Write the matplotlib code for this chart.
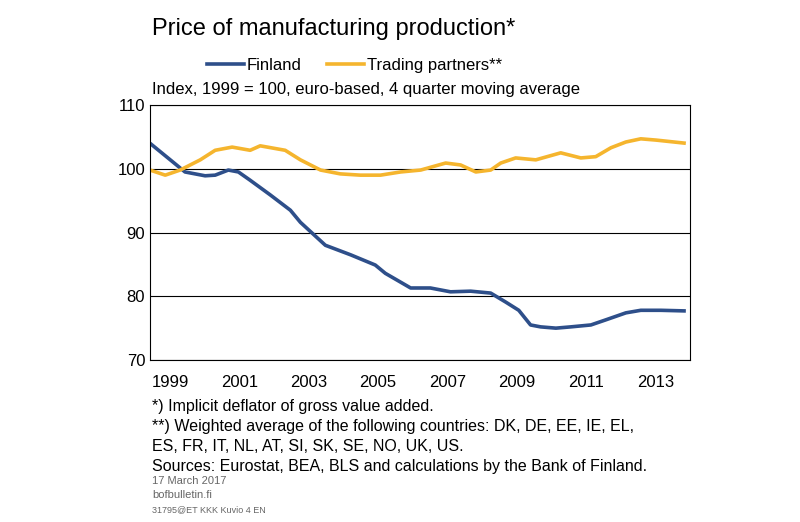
import matplotlib.pyplot as plt
from matplotlib.lines import Line2D

plt.rcParams['font.family'] = ['Liberation Sans', 'DejaVu Sans']

fin_years = [1998.42, 1999.14, 1999.43, 2000.01, 2000.30, 2000.68, 2000.97, 2001.31, 2001.89,
             2002.47, 2002.76, 2003.48, 2004.21, 2004.92, 2005.21, 2005.94, 2006.51, 2007.09,
             2007.67, 2008.25, 2008.68, 2009.06, 2009.40, 2009.69, 2010.13, 2010.56, 2011.14,
             2011.57, 2012.15, 2012.58, 2013.16, 2013.88]
fin_values = [104.0, 100.8, 99.5, 98.9, 99.0, 99.8, 99.5, 98.2, 95.9, 93.5, 91.6, 88.0, 86.5,
              84.9, 83.6, 81.3, 81.3, 80.7, 80.8, 80.5, 79.1, 77.8, 75.5, 75.2, 75.0, 75.2,
              75.5, 76.3, 77.4, 77.8, 77.8, 77.7]

tp_years = [1998.42, 1998.86, 1999.29, 1999.87, 2000.30, 2000.79, 2001.31, 2001.60, 2002.32,
            2002.76, 2003.34, 2003.91, 2004.49, 2005.07, 2005.65, 2006.23, 2006.95, 2007.38,
            2007.82, 2008.25, 2008.54, 2008.97, 2009.55, 2010.27, 2010.85, 2011.28, 2011.72,
            2012.15, 2012.58, 2013.02, 2013.88]
tp_values = [99.8, 99.0, 99.8, 101.4, 102.9, 103.4, 102.9, 103.6, 102.9, 101.4, 99.8, 99.2,
             99.0, 99.0, 99.5, 99.8, 100.9, 100.6, 99.5, 99.8, 100.9, 101.7, 101.4, 102.5,
             101.7, 101.9, 103.3, 104.2, 104.7, 104.5, 104.0]

tick_years = [1999, 2001, 2003, 2005, 2007, 2009, 2011, 2013]
y_ticks = [70, 80, 90, 100, 110]

fin_color = '#2e4f8a'
tp_color = '#f5b52e'

fig = plt.figure(figsize=(8, 5.22), dpi=100)
ax = fig.add_axes([0.1875, 0.3103, 0.675, 0.4885])

ax.plot(fin_years, fin_values, color=fin_color, lw=2.6, solid_capstyle='butt')
ax.plot(tp_years, tp_values, color=tp_color, lw=2.6, solid_capstyle='butt')

ax.set_xlim(1998.42, 2014.0)
ax.set_ylim(70, 110)
ax.set_yticks(y_ticks)
ax.set_xticks(tick_years)
ax.set_xticklabels([str(y) for y in tick_years])
ax.tick_params(labelsize=12, direction='in', length=0)
ax.tick_params(axis='x', pad=11)
ax.grid(axis='y', color='black', lw=0.8)
for s in ax.spines.values():
    s.set_linewidth(0.8)

fig.text(0.19, 0.945, 'Price of manufacturing production*', fontsize=17, va='center')
handles = [Line2D([], [], color=fin_color, lw=2.6), Line2D([], [], color=tp_color, lw=2.6)]
fig.legend(handles, ['Finland', 'Trading partners**'], loc='center left',
           bbox_to_anchor=(0.24, 0.875), ncol=2, frameon=False, fontsize=12,
           handlelength=2.2, handletextpad=0.2, columnspacing=1.5)
fig.text(0.19, 0.828, 'Index, 1999 = 100, euro-based, 4 quarter moving average',
         fontsize=12, va='center')

notes = ['*) Implicit deflator of gross value added.',
         '**) Weighted average of the following countries: DK, DE, EE, IE, EL,',
         'ES, FR, IT, NL, AT, SI, SK, SE, NO, UK, US.',
         'Sources: Eurostat, BEA, BLS and calculations by the Bank of Finland.']
for i, n in enumerate(notes):
    fig.text(0.19, 1 - (407 + 19.7 * i) / 522, n, fontsize=11.5, va='center')
small = [('17 March 2017', 8), ('bofbulletin.fi', 8), ('31795@ET KKK Kuvio 4 EN', 6.5)]
for i, (t, fs) in enumerate(small):
    fig.text(0.19, 1 - (481 + 14.5 * i) / 522, t, fontsize=fs, color='#666666', va='center')

fig.savefig('out.png', dpi=100)
